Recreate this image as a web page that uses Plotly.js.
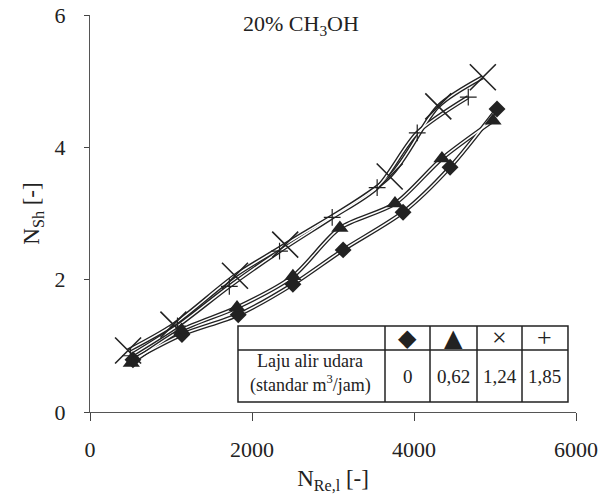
<!DOCTYPE html>
<html><head><meta charset="utf-8">
<script src="https://cdn.plot.ly/plotly-3.0.1.min.js"></script>
<style>html,body{margin:0;padding:0;background:#fff}</style>
</head><body>
<div id="chart" style="width:613px;height:502px"></div>
<script>
// Data (N_Re,l vs N_Sh, 20% CH3OH)
const nre_0   = [530, 1135, 1830, 2505, 3125, 3865, 4445, 5025];
const nsh_0   = [0.79, 1.17, 1.47, 1.93, 2.45, 3.02, 3.70, 4.58];
const nre_062 = [510, 1130, 1815, 2505, 3085, 3765, 4345, 4975];
const nsh_062 = [0.74, 1.24, 1.58, 2.05, 2.78, 3.15, 3.83, 4.40];
const nre_124 = [470, 1030, 1790, 2410, 3700, 4300, 4850];
const nsh_124 = [0.93, 1.32, 2.06, 2.53, 3.56, 4.62, 5.06];
const nre_185 = [500, 1080, 1720, 2340, 2990, 3545, 4040, 4670];
const nsh_185 = [0.85, 1.30, 1.90, 2.43, 2.94, 3.39, 4.22, 4.76];

const flowLabels = ['0', '0,62', '1,24', '1,85'];
const tableSymbols = ['\u25C6', '\u25B2', '\u00D7', '+'];
const xTicks = [0, 2000, 4000, 6000];
const yTicks = [0, 2, 4, 6];

const series = [
  {x: nre_0,   y: nsh_0,   sym: 'diamond',         size: 13, lw: 0},
  {x: nre_062, y: nsh_062, sym: 'triangle-up',     size: 15, lw: 0},
  {x: nre_124, y: nsh_124, sym: 'x-thin-open',     size: 26, lw: 1.6},
  {x: nre_185, y: nsh_185, sym: 'cross-thin-open', size: 12, lw: 1.2}
];

const ink = '#222';
const traces = [];
// hollow (outlined) connecting lines: dark wide stroke, then white core
series.forEach((s, i) => traces.push({
  x: s.x, y: s.y, type: 'scatter', mode: 'lines', showlegend: false, hoverinfo: 'skip',
  line: {color: ink, width: 4.2, shape: 'spline', smoothing: 0.8}
}));
series.forEach((s, i) => traces.push({
  x: s.x, y: s.y, type: 'scatter', mode: 'lines', showlegend: false, hoverinfo: 'skip',
  line: {color: '#fff', width: 1.5, shape: 'spline', smoothing: 0.8}
}));
series.forEach((s, i) => traces.push({
  x: s.x, y: s.y, type: 'scatter', mode: 'markers', name: flowLabels[i], showlegend: false,
  marker: {symbol: s.sym, size: s.size, color: ink, line: {color: ink, width: s.lw}}
}));

// legend table geometry (paper coords)
const colX = [0.3045, 0.607, 0.6996, 0.7963, 0.8889, 0.9835];
const rowY = [0.2166, 0.1562, 0.0252];
const shapes = [];
shapes.push({type: 'rect', xref: 'paper', yref: 'paper', x0: colX[0], x1: colX[5], y0: rowY[2], y1: rowY[0],
  fillcolor: '#fff', line: {color: ink, width: 1.5}, layer: 'above'});
shapes.push({type: 'line', xref: 'paper', yref: 'paper', x0: colX[0], x1: colX[5], y0: rowY[1], y1: rowY[1],
  line: {color: ink, width: 1.5}, layer: 'above'});
for (let k = 1; k < 5; k++) {
  shapes.push({type: 'line', xref: 'paper', yref: 'paper', x0: colX[k], x1: colX[k], y0: rowY[2], y1: rowY[0],
    line: {color: ink, width: 1.5}, layer: 'above'});
}

const serif = 'Liberation Serif, Times New Roman, serif';
const ann = (text, x, y, font) => ({text, xref: 'paper', yref: 'paper', x, y, showarrow: false,
  xanchor: 'center', yanchor: 'middle', font});
const annotations = [
  ann('20% CH<sub>3</sub>OH', 0.434, 0.975, {family: serif, size: 22, color: ink}),
  ann('Laju alir udara', 0.4527, 0.1285, {family: serif, size: 18, color: ink}),
  ann('(standar m<sup>3</sup>/jam)', 0.4527, 0.0700, {family: serif, size: 18, color: ink})
];
flowLabels.forEach((lab, i) => {
  const cx = (colX[i + 1] + colX[i + 2]) / 2;
  annotations.push(ann(lab, cx, 0.0882, {family: serif, size: 19, color: ink}));
  const symFont = i < 2 ? {family: 'DejaVu Sans', size: 24, color: ink} : {family: serif, size: 26, color: ink};
  annotations.push(ann(tableSymbols[i], cx, 0.1864, symFont));
});

const layout = {
  width: 613, height: 502,
  margin: {l: 90, r: 37, t: 15, b: 90},
  paper_bgcolor: '#fff', plot_bgcolor: '#fff',
  showlegend: false,
  font: {family: serif, size: 22, color: ink},
  xaxis: {
    range: [0, 6000], tickvals: xTicks, ticktext: xTicks.map(String),
    showgrid: false, zeroline: false, showline: true, linecolor: '#555', linewidth: 1,
    ticks: 'outside', ticklen: 8, tickcolor: '#444', tickwidth: 1, ticklabelstandoff: 10,
    tickfont: {family: serif, size: 22, color: ink},
    title: {text: 'N<sub>Re,l</sub> [-]', font: {family: serif, size: 23, color: ink}, standoff: 8}
  },
  yaxis: {
    range: [0, 6], tickvals: yTicks, ticktext: yTicks.map(String),
    showgrid: false, zeroline: false, showline: true, linecolor: '#555', linewidth: 1,
    ticks: 'outside', ticklen: 5, tickcolor: '#444', tickwidth: 1, ticklabelstandoff: 14,
    tickfont: {family: serif, size: 22, color: ink},
    title: {text: 'N<sub>Sh</sub> [-]', font: {family: serif, size: 23, color: ink}, standoff: 8}
  },
  shapes: shapes,
  annotations: annotations
};

Plotly.newPlot('chart', traces, layout, {displayModeBar: false, staticPlot: true});
</script>
</body></html>
